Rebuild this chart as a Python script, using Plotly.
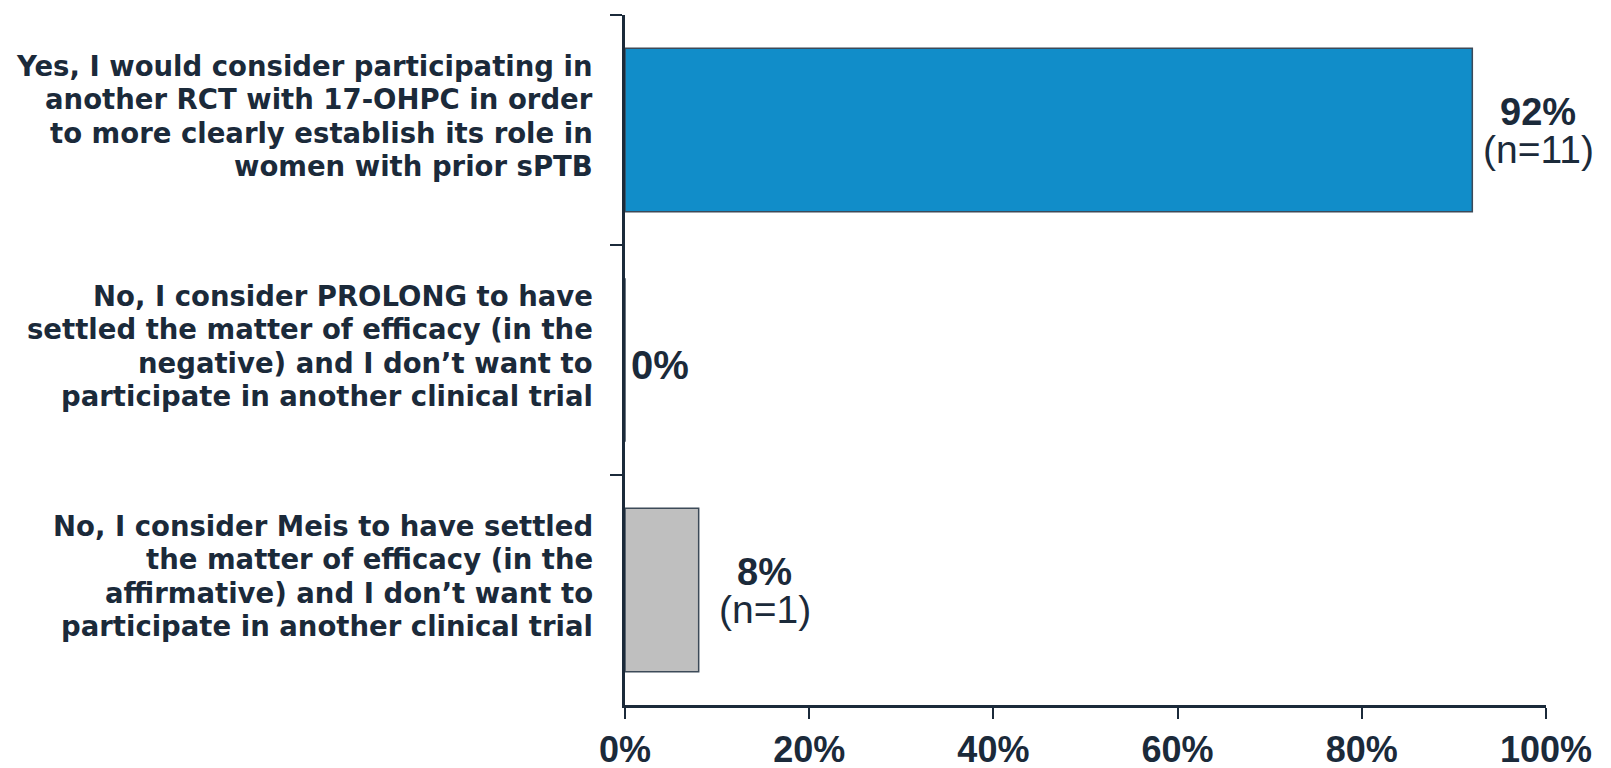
import plotly.graph_objects as go

# Survey responses (top to bottom) with percentage of respondents and counts
categories = [
    "Yes, I would consider participating in<br>another RCT with 17-OHPC in order<br>to more clearly establish its role in<br>women with prior sPTB",
    "No, I consider PROLONG to have<br>settled the matter of efficacy (in the<br>negative) and I don\u2019t want to<br>participate in another clinical trial",
    "No, I consider Meis to have settled<br>the matter of efficacy (in the<br>affirmative) and I don\u2019t want to<br>participate in another clinical trial",
]
percent = [92, 0, 8]
counts = [11, 0, 1]
bar_colors = ["#118DC9", "#118DC9", "#BFBFBF"]

x_ticks = [0, 20, 40, 60, 80, 100]
x_tick_labels = ["0%", "20%", "40%", "60%", "80%", "100%"]

INK = "#1B2A3A"
SANS = "Liberation Sans, Arial, sans-serif"
LABEL_FONT = "DejaVu Sans, Verdana, sans-serif"

# category label layout: lines stacked with a tight leading beside the axis
LINE_STEP = 33.5
LABEL_LIFT = 14
LABEL_GAP = 31

fig = go.Figure(
    go.Bar(
        x=percent,
        y=categories,
        orientation="h",
        marker=dict(color=bar_colors, line=dict(color="#3C4A58", width=1.5)),
        hoverinfo="skip",
    )
)

annotations = []

# multi-line category labels, right-aligned against the y axis
for cat in categories:
    lines = cat.split("<br>")
    mid = (len(lines) - 1) / 2
    for i, line in enumerate(lines):
        annotations.append(dict(
            x=0, y=cat, xref="paper", yref="y", text=line,
            showarrow=False, xanchor="right", yanchor="middle",
            xshift=-LABEL_GAP, yshift=(mid - i) * LINE_STEP + LABEL_LIFT,
            borderpad=0,
            font=dict(family=LABEL_FONT, size=27.5, color=INK, weight="bold"),
        ))

# value labels beside each bar
for cat, p, n in zip(categories, percent, counts):
    if n > 0:
        annotations.append(dict(
            x=p, y=cat, xref="x", yref="y", text=f"<b>{p}%</b>",
            showarrow=False, xanchor="center", yanchor="middle",
            xshift=66, yshift=18, borderpad=0,
            font=dict(family=SANS, size=38, color=INK),
        ))
        annotations.append(dict(
            x=p, y=cat, xref="x", yref="y", text=f"(n={n})",
            showarrow=False, xanchor="center", yanchor="middle",
            xshift=66, yshift=-19, borderpad=0,
            font=dict(family=SANS, size=39, color=INK),
        ))
    else:
        annotations.append(dict(
            x=p, y=cat, xref="x", yref="y", text=f"<b>{p}%</b>",
            showarrow=False, xanchor="left", yanchor="middle",
            xshift=4, yshift=-5,
            font=dict(family=SANS, size=40, color=INK),
        ))

fig.update_layout(
    width=1611,
    height=768,
    margin=dict(l=625, r=65, t=15, b=63),
    paper_bgcolor="white",
    plot_bgcolor="white",
    showlegend=False,
    bargap=0.29,
    annotations=annotations,
    xaxis=dict(
        range=[0, 100],
        tickvals=x_ticks,
        ticktext=x_tick_labels,
        ticks="outside",
        ticklen=11,
        tickwidth=2,
        tickcolor=INK,
        showline=True,
        linecolor=INK,
        linewidth=2.5,
        showgrid=False,
        zeroline=False,
        automargin=False,
        ticklabelstandoff=0,
        tickfont=dict(family=SANS, size=36, color=INK, weight="bold"),
        fixedrange=True,
    ),
    yaxis=dict(
        categoryorder="array",
        categoryarray=categories,
        autorange="reversed",
        tickson="boundaries",
        ticks="outside",
        ticklen=12,
        tickwidth=2,
        tickcolor=INK,
        showline=True,
        linecolor=INK,
        linewidth=2.5,
        showgrid=False,
        zeroline=False,
        automargin=False,
        showticklabels=False,
        fixedrange=True,
    ),
)

fig.write_html("out.html", config={"displayModeBar": False})
